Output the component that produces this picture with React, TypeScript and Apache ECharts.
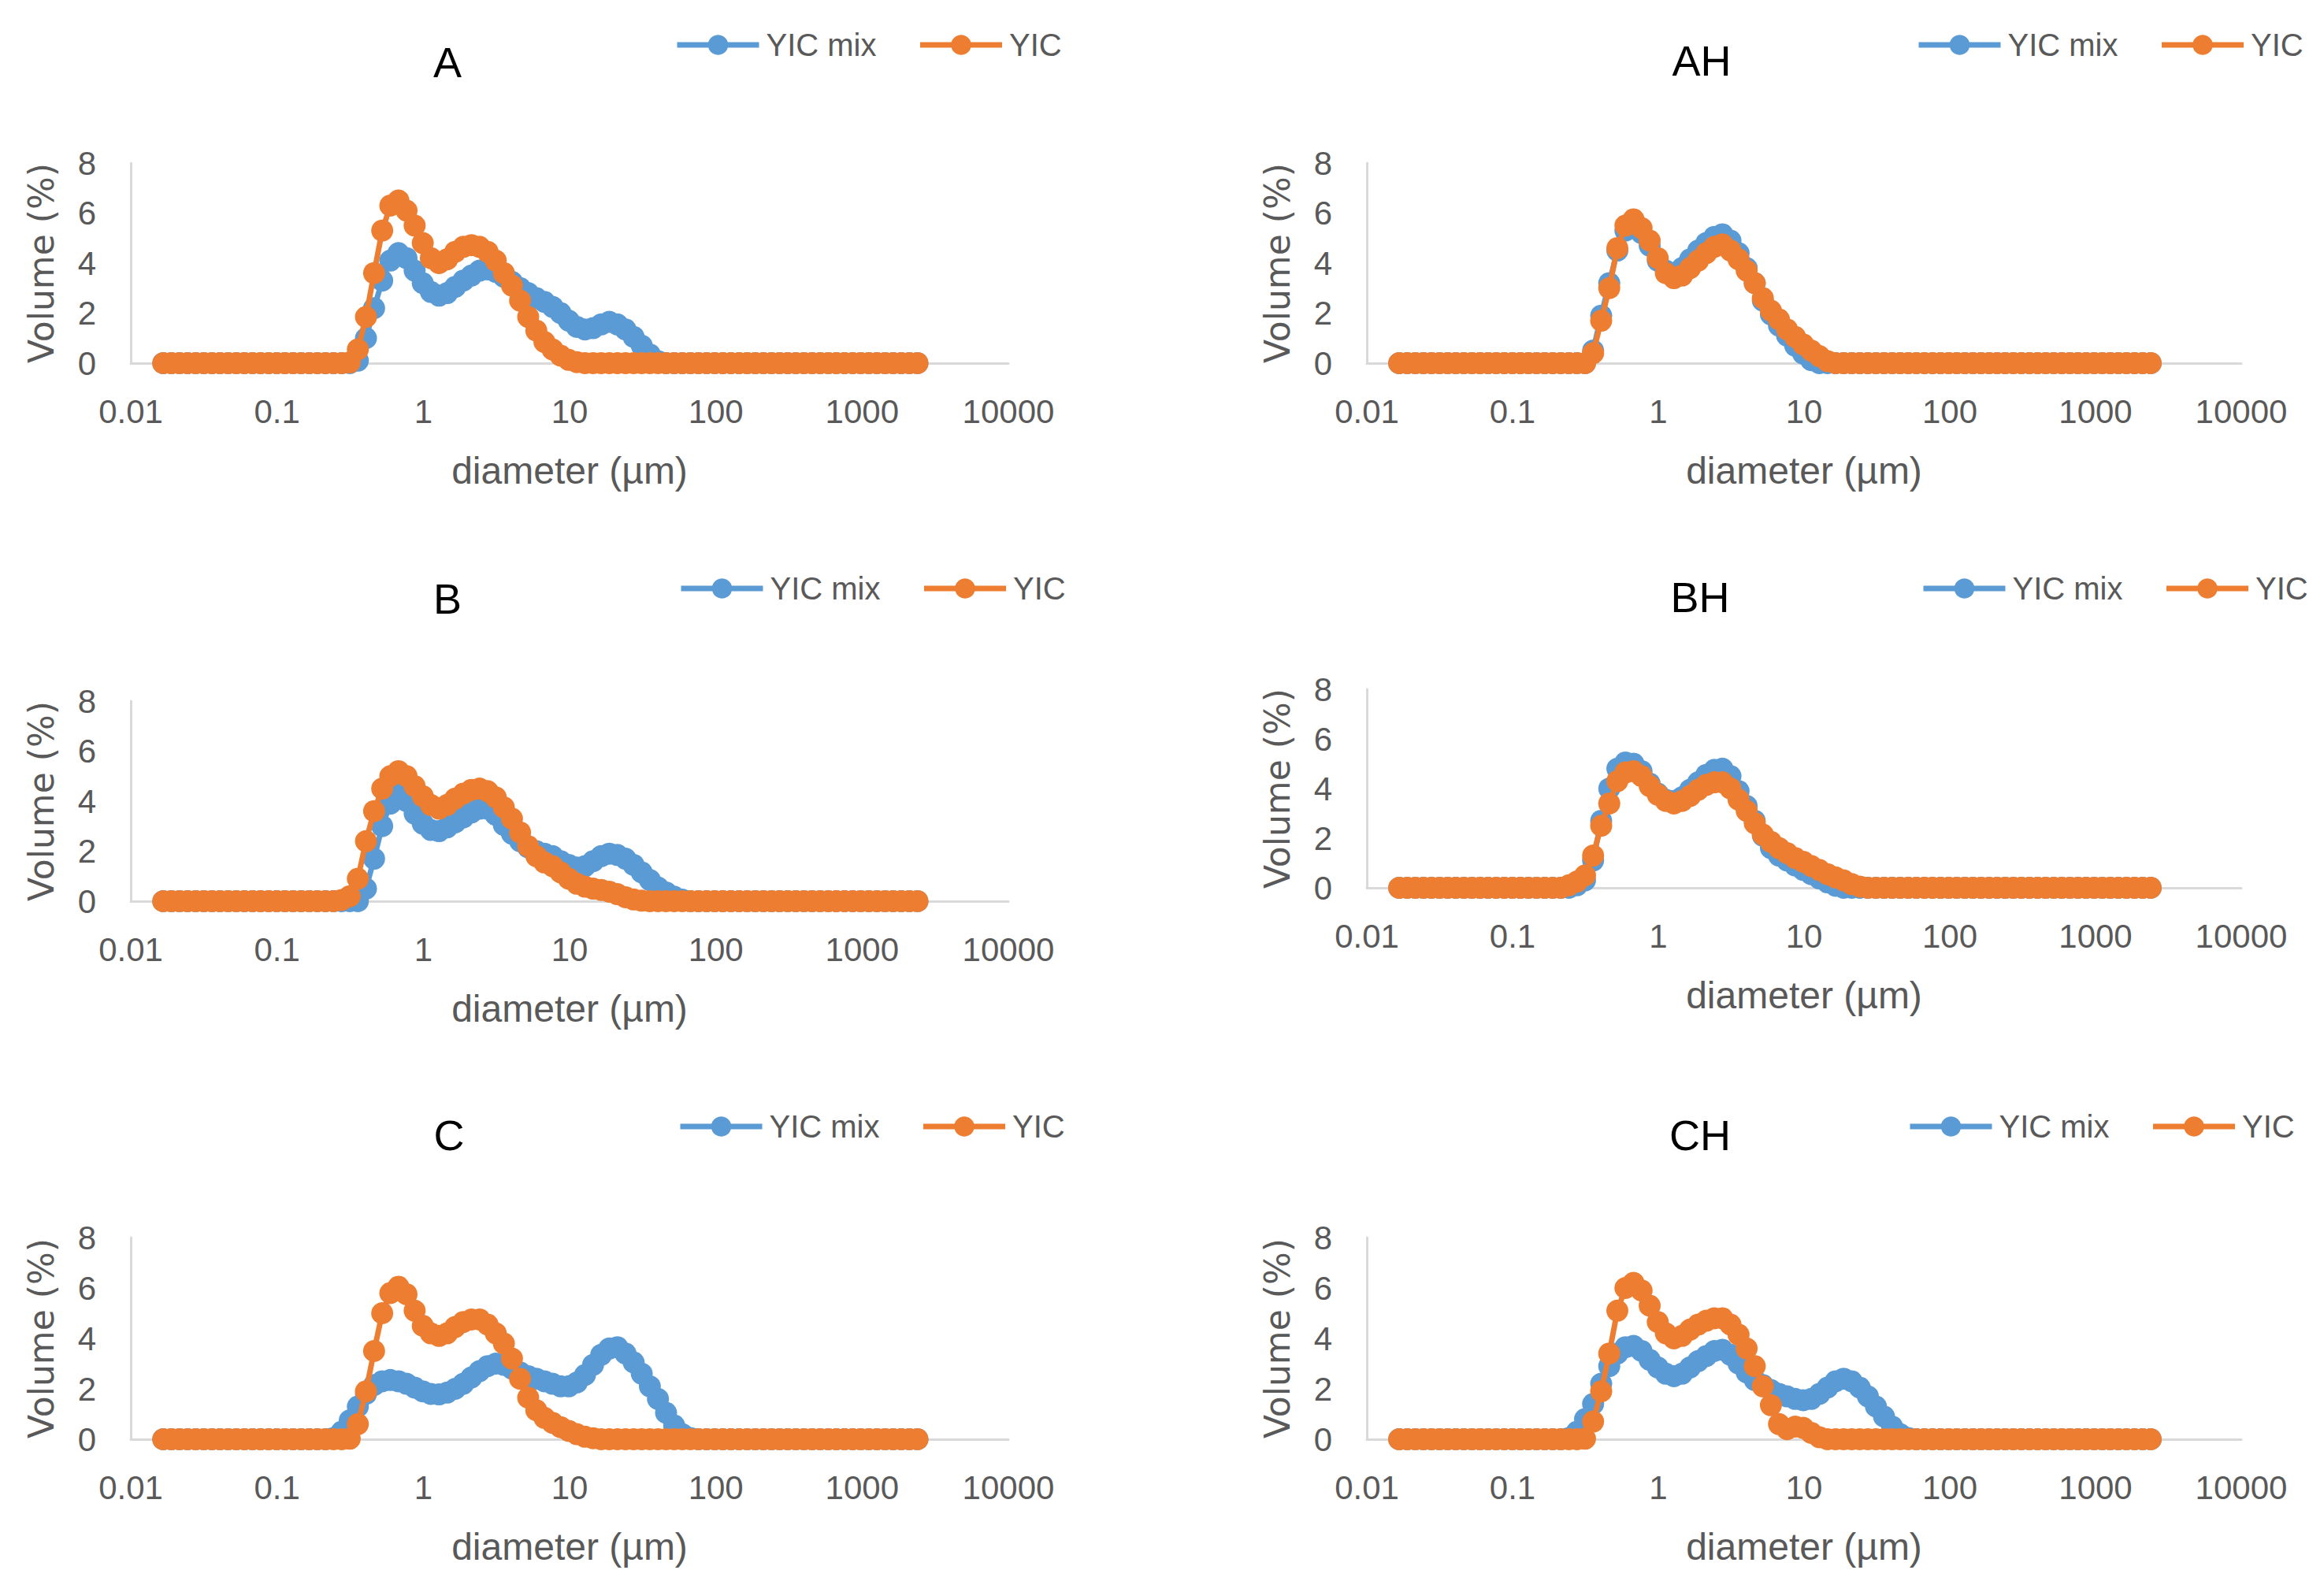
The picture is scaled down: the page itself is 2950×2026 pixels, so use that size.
import React, { useEffect, useRef } from "react";
import * as echarts from "echarts";

// Particle size classes (µm), log-spaced as in the laser diffraction instrument
const SIZES_UM = [
  0.01667, 0.01894, 0.02152, 0.02445, 0.02778, 0.03156, 0.03586, 0.04075, 0.0463, 0.0526,
  0.0598, 0.0679, 0.0771, 0.0876, 0.0996, 0.1131, 0.1285, 0.146, 0.1659, 0.1885,
  0.2142, 0.2433, 0.2765, 0.3141, 0.3569, 0.4055, 0.4607, 0.5235, 0.5948, 0.6758,
  0.7678, 0.8724, 0.9913, 1.126, 1.28, 1.454, 1.652, 1.877, 2.133, 2.423,
  2.753, 3.128, 3.554, 4.038, 4.588, 5.213, 5.923, 6.729, 7.646, 8.687,
  9.87, 11.21, 12.74, 14.48, 16.45, 18.69, 21.23, 24.12, 27.41, 31.14,
  35.38, 40.2, 45.67, 51.89, 58.96, 66.99, 76.11, 86.47, 98.25, 111.6,
  126.8, 144.1, 163.7, 186.0, 211.3, 240.1, 272.8, 309.9, 352.1, 400.1,
  454.6, 516.5, 586.8, 666.7, 757.5, 860.7, 977.9, 1111, 1262, 1434,
  1629, 1851, 2103, 2390,
];

// Values below are read for the size classes starting at this size; all other classes read 0
const WINDOW_START_UM = 0.2433;

const X_TICKS = [0.01, 0.1, 1, 10, 100, 1000, 10000];
const Y_TICKS = [0, 2, 4, 6, 8];
const SERIES_NAMES = ["YIC mix", "YIC"];
const PANEL_TITLES = ["A", "AH", "B", "BH", "C", "CH"];

const A_MIX = [
  0, 0, 0, 0.1, 1.0, 2.2, 3.3, 4.1, 4.4, 4.2,
  3.7, 3.2, 2.85, 2.7, 2.8, 3.05, 3.3, 3.5, 3.7, 3.75,
  3.65, 3.45, 3.25, 3.0, 2.8, 2.6, 2.45, 2.25, 2.0, 1.7,
  1.45, 1.35, 1.4, 1.55, 1.65, 1.55, 1.35, 1.05, 0.7, 0.35,
  0.08, 0, 0, 0, 0, 0, 0, 0, 0, 0,
];
const A_YIC = [
  0, 0, 0.03, 0.55, 1.85, 3.6, 5.3, 6.3, 6.5, 6.1,
  5.5, 4.8, 4.2, 4.0, 4.15, 4.45, 4.65, 4.72, 4.65, 4.45,
  4.1, 3.6, 3.1, 2.5, 1.85, 1.3, 0.85, 0.55, 0.3, 0.13,
  0.04, 0, 0, 0, 0, 0, 0, 0, 0, 0,
  0, 0, 0, 0, 0, 0, 0, 0, 0, 0,
];
const AH_MIX = [
  0, 0, 0, 0.5, 1.9, 3.2, 4.5, 5.3, 5.5, 5.2,
  4.7, 4.1, 3.7, 3.6, 3.8, 4.15, 4.5, 4.8, 5.05, 5.15,
  4.9, 4.4, 3.8, 3.2, 2.5, 1.95, 1.5, 1.1, 0.7, 0.38,
  0.12, 0, 0, 0, 0, 0, 0, 0, 0, 0,
  0, 0, 0, 0, 0, 0, 0, 0, 0, 0,
];
const AH_YIC = [
  0, 0, 0, 0.4, 1.7, 3.0, 4.6, 5.5, 5.75, 5.4,
  4.9, 4.2, 3.6, 3.4, 3.5, 3.8, 4.1, 4.4, 4.65, 4.75,
  4.5, 4.15, 3.7, 3.2, 2.6, 2.1, 1.75, 1.35, 1.05, 0.75,
  0.5, 0.28, 0.08, 0, 0, 0, 0, 0, 0, 0,
  0, 0, 0, 0, 0, 0, 0, 0, 0, 0,
];
const B_MIX = [
  0, 0, 0, 0, 0.5, 1.7, 3.0, 3.9, 4.3, 4.0,
  3.5, 3.1, 2.85, 2.8, 2.95, 3.15, 3.35, 3.55, 3.7, 3.7,
  3.45, 3.05, 2.7, 2.4, 2.15, 2.0, 1.9, 1.8, 1.6, 1.45,
  1.35, 1.4, 1.6, 1.8, 1.9, 1.85, 1.7, 1.45, 1.15, 0.85,
  0.55, 0.35, 0.18, 0.06, 0, 0, 0, 0, 0, 0,
];
const B_YIC = [
  0, 0.05, 0.2, 0.9, 2.4, 3.6, 4.5, 5.0, 5.2, 5.0,
  4.6, 4.2, 3.85, 3.7, 3.85, 4.1, 4.3, 4.45, 4.5, 4.4,
  4.15, 3.75, 3.3, 2.75, 2.2, 1.8, 1.55, 1.4, 1.15, 0.9,
  0.7, 0.58, 0.5, 0.45, 0.38, 0.28, 0.16, 0.07, 0.02, 0,
  0, 0, 0, 0, 0, 0, 0, 0, 0, 0,
];
const BH_MIX = [
  0, 0.1, 0.3, 1.1, 2.7, 4.0, 4.8, 5.05, 5.0, 4.7,
  4.2, 3.8, 3.55, 3.5, 3.65, 3.95, 4.25, 4.55, 4.75, 4.8,
  4.5, 3.9, 3.3, 2.7, 2.1, 1.6, 1.3, 1.1, 0.9, 0.72,
  0.55, 0.38, 0.22, 0.08, 0, 0, 0, 0, 0, 0,
  0, 0, 0, 0, 0, 0, 0, 0, 0, 0,
];
const BH_YIC = [
  0.1, 0.25, 0.5, 1.3, 2.5, 3.4, 4.3, 4.65, 4.7, 4.5,
  4.1, 3.75, 3.5, 3.4, 3.5, 3.7, 3.95, 4.15, 4.25, 4.25,
  4.0, 3.55, 3.1, 2.6, 2.15, 1.85, 1.6, 1.4, 1.2, 1.05,
  0.88, 0.72, 0.55, 0.42, 0.3, 0.15, 0.05, 0, 0, 0,
  0, 0, 0, 0, 0, 0, 0, 0, 0, 0,
];
const C_MIX = [
  0.05, 0.3, 0.75, 1.3, 1.8, 2.15, 2.3, 2.35, 2.3, 2.2,
  2.05, 1.9, 1.8, 1.78, 1.85, 2.0, 2.2, 2.45, 2.7, 2.9,
  3.0, 2.95, 2.8, 2.65, 2.5, 2.4, 2.3, 2.2, 2.1, 2.1,
  2.25, 2.55, 2.95, 3.35, 3.6, 3.65, 3.4, 3.05, 2.6, 2.1,
  1.6, 1.05, 0.55, 0.2, 0.05, 0, 0, 0, 0, 0,
];
const C_YIC = [
  0, 0, 0.02, 0.6, 1.9, 3.5, 5.0, 5.8, 6.05, 5.75,
  5.1, 4.5, 4.2, 4.1, 4.2, 4.45, 4.65, 4.75, 4.75, 4.55,
  4.2, 3.8, 3.2, 2.4, 1.65, 1.15, 0.85, 0.65, 0.48, 0.33,
  0.2, 0.1, 0.04, 0, 0, 0, 0, 0, 0, 0,
  0, 0, 0, 0, 0, 0, 0, 0, 0, 0,
];
const CH_MIX = [
  0.05, 0.3, 0.8, 1.4, 2.2, 2.9, 3.4, 3.65, 3.7, 3.5,
  3.15, 2.85, 2.6, 2.5, 2.6, 2.85, 3.1, 3.3, 3.5, 3.55,
  3.35, 3.0, 2.65, 2.35, 2.15, 1.95, 1.8, 1.7, 1.6, 1.55,
  1.6, 1.8, 2.05, 2.3, 2.4, 2.3, 2.05, 1.7, 1.3, 0.9,
  0.5, 0.2, 0.05, 0, 0, 0, 0, 0, 0, 0,
];
const CH_YIC = [
  0, 0, 0.02, 0.7, 1.9, 3.4, 5.1, 6.0, 6.2, 5.9,
  5.3, 4.65, 4.2, 4.0, 4.1, 4.35, 4.55, 4.7, 4.8, 4.8,
  4.55, 4.15, 3.6, 2.9, 2.1, 1.35, 0.6, 0.4, 0.5, 0.45,
  0.25, 0.08, 0, 0, 0, 0, 0, 0, 0, 0,
  0, 0, 0, 0, 0, 0, 0, 0, 0, 0,
];

const PANEL_DATA = [
  [A_MIX, A_YIC],
  [AH_MIX, AH_YIC],
  [B_MIX, B_YIC],
  [BH_MIX, BH_YIC],
  [C_MIX, C_YIC],
  [CH_MIX, CH_YIC],
];

// Layout (pixels)
const LAYOUT = [
  { left: 166, top: 207, width: 1114, height: 254, tx: 568, ty: 79, lx: 856, ly: 53 },
  { left: 1735, top: 207, width: 1110, height: 254, tx: 2160, ty: 77, lx: 2432, ly: 53 },
  { left: 166, top: 890, width: 1114, height: 254, tx: 568, ty: 760, lx: 861, ly: 743 },
  { left: 1735, top: 875, width: 1110, height: 252, tx: 2158, ty: 758, lx: 2438, ly: 743 },
  { left: 166, top: 1571, width: 1114, height: 256, tx: 570, ty: 1441, lx: 860, ly: 1426 },
  { left: 1735, top: 1571, width: 1110, height: 256, tx: 2158, ty: 1441, lx: 2421, ly: 1426 },
];

const COLORS = ["#5B9BD5", "#ED7D31"];
const FONT = "Liberation Sans";
const GRAY_TEXT = "#595959";
const AXIS_GRAY = "#D9D9D9";

function fullSeries(vals: number[]) {
  const start = SIZES_UM.indexOf(WINDOW_START_UM);
  return SIZES_UM.map((d, k) => {
    const j = k - start;
    const v = j >= 0 && j < vals.length ? vals[j] : 0;
    return [d, v];
  });
}

function fmtLog(v: number) {
  return String(Number(Number(v).toPrecision(6)));
}

export default function App() {
  const ref = useRef<HTMLDivElement>(null);
  useEffect(() => {
    if (!ref.current) return;
    const chart = echarts.init(ref.current, null, { renderer: "svg" });
    const grids: any[] = [];
    const xAxes: any[] = [];
    const yAxes: any[] = [];
    const series: any[] = [];
    const legends: any[] = [];
    const graphics: any[] = [];

    LAYOUT.forEach((L, i) => {
      grids.push({ left: L.left, top: L.top, width: L.width, height: L.height, containLabel: false });
      xAxes.push({
        type: "log",
        logBase: 10,
        gridIndex: i,
        min: X_TICKS[0],
        max: X_TICKS[X_TICKS.length - 1],
        splitNumber: X_TICKS.length - 1,
        axisLine: { show: true, onZero: false, lineStyle: { color: AXIS_GRAY, width: 3 } },
        axisTick: { show: false },
        splitLine: { show: false },
        axisLabel: {
          fontSize: 42,
          color: GRAY_TEXT,
          fontFamily: FONT,
          margin: 40,
          formatter: (v: number) => fmtLog(v),
        },
        name: "diameter (µm)",
        nameLocation: "middle",
        nameGap: 112,
        nameTextStyle: { fontSize: 48, color: GRAY_TEXT, fontFamily: FONT },
      });
      yAxes.push({
        type: "value",
        gridIndex: i,
        min: Y_TICKS[0],
        max: Y_TICKS[Y_TICKS.length - 1],
        interval: Y_TICKS[1] - Y_TICKS[0],
        axisLine: { show: true, lineStyle: { color: AXIS_GRAY, width: 3 } },
        axisTick: { show: false },
        splitLine: { show: false },
        axisLabel: { fontSize: 42, color: GRAY_TEXT, fontFamily: FONT, margin: 44 },
        name: "Volume (%)",
        nameLocation: "middle",
        nameGap: 92,
        nameRotate: 90,
        nameTextStyle: { fontSize: 44, color: GRAY_TEXT, fontFamily: "DejaVu Sans" },
      });
      PANEL_DATA[i].forEach((vals, s) => {
        series.push({
          type: "line",
          name: SERIES_NAMES[s],
          xAxisIndex: i,
          yAxisIndex: i,
          data: fullSeries(vals),
          symbol: "circle",
          symbolSize: 28,
          showSymbol: true,
          showAllSymbol: true,
          clip: false,
          color: COLORS[s],
          itemStyle: { color: COLORS[s], borderWidth: 0 },
          lineStyle: { color: COLORS[s], width: 7 },
          z: 2 + s,
          emphasis: { disabled: true },
        });
      });
      legends.push({
        left: L.lx,
        top: L.ly - 16,
        padding: 0,
        itemWidth: 104,
        itemHeight: 32,
        itemGap: 52,
        selectedMode: false,
        data: SERIES_NAMES,
        lineStyle: { width: 7 },
        textStyle: { fontSize: 40, color: GRAY_TEXT, fontFamily: FONT, padding: [0, 0, 0, 4] },
      });
      graphics.push({
        type: "text",
        x: L.tx,
        y: L.ty,
        style: {
          text: PANEL_TITLES[i],
          fontSize: 54,
          fontFamily: FONT,
          fill: "#000000",
          align: "center",
          verticalAlign: "middle",
        },
      });
    });

    chart.setOption({
      animation: false,
      backgroundColor: "#ffffff",
      grid: grids,
      xAxis: xAxes,
      yAxis: yAxes,
      legend: legends,
      series,
      graphic: graphics,
    });
    return () => chart.dispose();
  }, []);

  return (
    <div
      ref={ref}
      style={{ position: "absolute", left: 0, top: 0, width: 2950, height: 2026, background: "#fff" }}
    />
  );
}
